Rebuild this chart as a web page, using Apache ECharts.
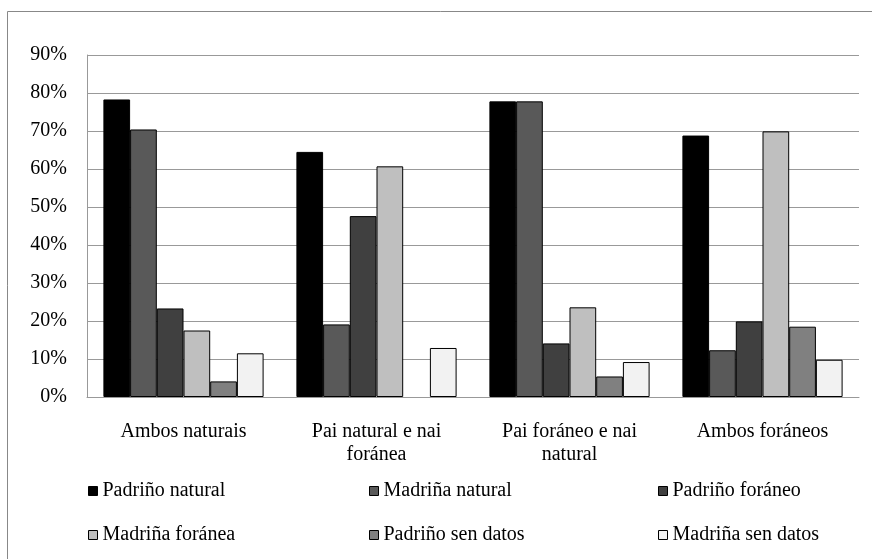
<!DOCTYPE html>
<html>
<head>
<meta charset="utf-8">
<script src="https://cdn.jsdelivr.net/npm/echarts@6/dist/echarts.min.js"></script>
<style>
  html, body { margin: 0; padding: 0; background: #fff; }
  #chart { width: 872px; height: 559px; }
</style>
</head>
<body>
<div id="chart"></div>
<script>
// categorías (eixo X)
const categories = ['Ambos naturais', 'Pai natural e nai\nforánea', 'Pai foráneo e nai\nnatural', 'Ambos foráneos']

// valores en %
const padrinoNatural = [78.3, 64.5, 77.8, 68.8]
const madrinaNatural = [70.4, 19.1, 77.8, 12.3]
const padrinoForaneo = [23.3, 47.6, 14.1, 19.9]
const madrinaForanea = [17.5, 60.7, 23.6, 69.9]
const padrinoSenDatos = [4.1, 0, 5.4, 18.5]
const madrinaSenDatos = [11.5, 12.9, 9.2, 9.8]

const seriesNames = ['Padriño natural', 'Madriña natural', 'Padriño foráneo', 'Madriña foránea', 'Padriño sen datos', 'Madriña sen datos']
const seriesData = [padrinoNatural, madrinaNatural, padrinoForaneo, madrinaForanea, padrinoSenDatos, madrinaSenDatos]
const colors = ['#000000', '#595959', '#404040', '#bfbfbf', '#808080', '#f2f2f2']

const FONT = 'Liberation Serif'
const chart = echarts.init(document.getElementById('chart'))

// leyenda en 3 columnas x 2 filas
const legendPos = [
  { left: 83, top: 476 }, { left: 364, top: 476 }, { left: 653, top: 476 },
  { left: 83, top: 520 }, { left: 364, top: 520 }, { left: 653, top: 520 }
]
const legends = seriesNames.map((name, i) => ({
  data: [name],
  left: legendPos[i].left,
  top: legendPos[i].top,
  icon: 'rect',
  itemWidth: 9,
  itemHeight: 9,
  itemStyle: { borderColor: '#000', borderWidth: 1 },
  textStyle: { fontFamily: FONT, fontSize: 20, color: '#000' },
  selectedMode: false
}))

chart.setOption({
  animation: false,
  color: colors,
  graphic: [{
    type: 'rect',
    left: 5, top: 9,
    shape: { width: 900, height: 600 },
    style: { fill: 'none', stroke: '#888', lineWidth: 1 },
    silent: true,
    z: -1
  }],
  grid: { left: 87, right: 13, top: 55, bottom: 162 },
  legend: legends,
  xAxis: {
    type: 'category',
    data: categories,
    axisLine: { lineStyle: { color: '#999', width: 1 } },
    axisTick: { show: false },
    axisLabel: { fontFamily: FONT, fontSize: 20, color: '#000', margin: 23, lineHeight: 23 }
  },
  yAxis: {
    type: 'value',
    min: 0, max: 90, interval: 10,
    axisLine: { show: true, lineStyle: { color: '#999', width: 1 } },
    splitLine: { lineStyle: { color: '#999', width: 1 } },
    axisLabel: { fontFamily: FONT, fontSize: 20, color: '#000', margin: 20, formatter: '{value}%' }
  },
  series: seriesNames.map((name, i) => ({
    name: name,
    type: 'bar',
    // barra de valor 0 sen bordo, para que non se vexa unha liña sobre o eixo
    data: seriesData[i].map(v => v === 0 ? { value: v, itemStyle: { borderWidth: 0 } } : v),
    barGap: 0,
    barCategoryGap: '17%',
    itemStyle: { color: colors[i], borderColor: '#000', borderWidth: 1 }
  }))
})
</script>
</body>
</html>
